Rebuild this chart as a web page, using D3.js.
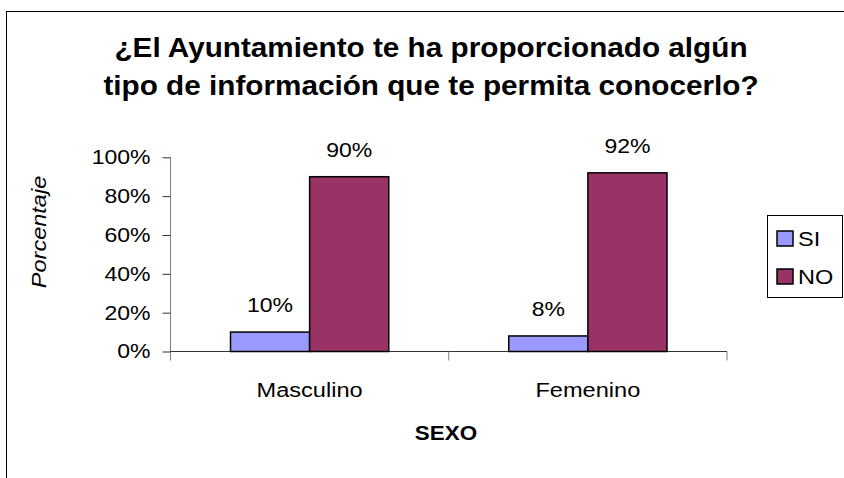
<!DOCTYPE html>
<html>
<head>
<meta charset="utf-8">
<script src="https://cdn.jsdelivr.net/npm/d3@7"></script>
<style>
  html, body { margin: 0; padding: 0; background: #fff; }
  svg { display: block; font-family: "Liberation Sans", Arial, sans-serif; }
</style>
</head>
<body>
<svg id="chart" width="844" height="478"></svg>
<script>
// Survey answers by sex
const categories = ["Masculino", "Femenino"];
const seriesNames = ["SI", "NO"];
const siValues = [10, 8];
const noValues = [90, 92];
const yTicks = [0, 20, 40, 60, 80, 100];
const titleLines = ["¿El Ayuntamiento te ha proporcionado algún", "tipo de información que te permita conocerlo?"];
const colors = { SI: "#9999FF", NO: "#993366" };

const rows = categories.map((c, i) => ({ cat: c, SI: siValues[i], NO: noValues[i] }));

const svg = d3.select("#chart");

// Widen glyphs horizontally by factor k (text keeps its anchor)
function widen(sel, k) {
  sel.each(function () {
    const w = this.getComputedTextLength();
    d3.select(this).attr("textLength", w * k).attr("lengthAdjust", "spacingAndGlyphs");
  });
}

// Outer chart frame (extends past the right and bottom edges)
svg.append("rect")
  .attr("x", 6.5).attr("y", 11.5)
  .attr("width", 900).attr("height", 600)
  .attr("fill", "#fff").attr("stroke", "#000").attr("stroke-width", 1);

// Title
const title = svg.append("text")
  .attr("text-anchor", "middle")
  .attr("font-weight", "bold")
  .attr("font-size", 27)
  .attr("fill", "#000");
titleLines.forEach((t, i) => {
  title.append("tspan").attr("x", 431).attr("y", 57 + i * 38).text(t);
});
widen(title.selectAll("tspan"), 1.1);

const plot = { left: 170.5, right: 727, top: 157.3, bottom: 351.5 };

const x0 = d3.scaleBand().domain(categories).range([plot.left, plot.right]);
const x1 = d3.scaleBand().domain(seriesNames)
  .range([60, x0.bandwidth() - 60]);
const y = d3.scaleLinear().domain([0, 100]).range([plot.bottom, plot.top]);

// Y axis
const yAxis = svg.append("g")
  .attr("transform", `translate(${plot.left},0)`)
  .call(d3.axisLeft(y).tickValues(yTicks).tickSize(8).tickPadding(12).tickFormat(d => d + "%"));
yAxis.select(".domain").attr("stroke", "#808080").attr("d", `M0,${plot.top}V${plot.bottom + 9}`);
yAxis.selectAll(".tick line").attr("stroke", "#333");
yAxis.selectAll(".tick text")
  .attr("font-size", 20).attr("fill", "#000")
  .attr("font-family", "Liberation Sans, Arial, sans-serif");
widen(yAxis.selectAll(".tick text"), 1.15);

// X axis baseline with category separators
const xAxis = svg.append("g").attr("transform", `translate(0,${plot.bottom})`);
xAxis.append("line")
  .attr("x1", plot.left).attr("x2", plot.right)
  .attr("stroke", "#333").attr("stroke-width", 1);
const seps = categories.map(c => x0(c)).concat([plot.right]);
xAxis.selectAll("line.sep").data(seps.slice(1)).join("line")
  .attr("class", "sep")
  .attr("x1", d => d).attr("x2", d => d)
  .attr("y1", 0).attr("y2", 9)
  .attr("stroke", "#808080");
const catLabels = xAxis.selectAll("text").data(categories).join("text")
  .attr("x", d => x0(d) + x0.bandwidth() / 2)
  .attr("y", 45)
  .attr("text-anchor", "middle")
  .attr("font-size", 20)
  .text(d => d);
widen(catLabels, 1.18);

// Bars
const groups = svg.append("g").selectAll("g").data(rows).join("g")
  .attr("transform", d => `translate(${x0(d.cat)},0)`);
groups.selectAll("rect").data(d => seriesNames.map(k => ({ key: k, value: d[k] }))).join("rect")
  .attr("x", d => x1(d.key))
  .attr("width", x1.bandwidth())
  .attr("y", d => y(d.value))
  .attr("height", d => y(0) - y(d.value))
  .attr("fill", d => colors[d.key])
  .attr("stroke", "#000").attr("stroke-width", 1.5);
const valueLabels = groups.selectAll("text").data(d => seriesNames.map(k => ({ key: k, value: d[k] }))).join("text")
  .attr("x", d => x1(d.key) + x1.bandwidth() / 2)
  .attr("y", d => y(d.value) - 20)
  .attr("text-anchor", "middle")
  .attr("font-size", 20)
  .text(d => d.value + "%");
widen(valueLabels, 1.15);

// Axis titles
const yTitle = svg.append("text")
  .attr("transform", "translate(46,232) rotate(-90)")
  .attr("text-anchor", "middle")
  .attr("font-style", "italic")
  .attr("font-size", 21)
  .text("Porcentaje");
widen(yTitle, 1.12);
const xTitle = svg.append("text")
  .attr("x", 446).attr("y", 440)
  .attr("text-anchor", "middle")
  .attr("font-weight", "bold")
  .attr("font-size", 20)
  .text("SEXO");
widen(xTitle, 1.12);

// Legend
const legend = svg.append("g");
legend.append("rect")
  .attr("x", 767.5).attr("y", 215.5).attr("width", 75).attr("height", 82)
  .attr("fill", "#fff").attr("stroke", "#000").attr("stroke-width", 1);
const items = legend.selectAll("g").data(seriesNames).join("g")
  .attr("transform", (d, i) => `translate(777,${231 + i * 38})`);
items.append("rect")
  .attr("width", 16).attr("height", 15)
  .attr("fill", d => colors[d]).attr("stroke", "#000").attr("stroke-width", 1.5);
const legendText = items.append("text")
  .attr("x", 21).attr("y", 15)
  .attr("font-size", 21)
  .text(d => d);
widen(legendText, 1.12);
</script>
</body>
</html>
